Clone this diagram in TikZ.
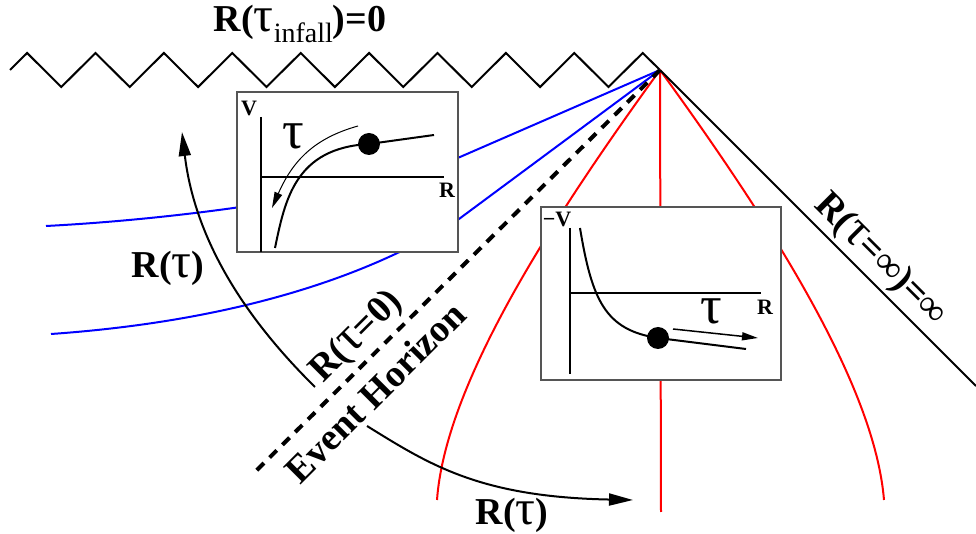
\documentclass[tikz,border=0pt]{standalone}
\usepackage{fontspec}
\setmainfont{Liberation Serif}
\usepackage{graphicx}
\usepackage{xcolor}
\definecolor{cBlue}{HTML}{0000FF}
\definecolor{cRed}{HTML}{FF0000}
\definecolor{cFrame}{HTML}{555555}
\usetikzlibrary{arrows.meta}
\newcommand{\tu}{\scalebox{1.3}{\normalfont τ}}
\tikzset{
  sing-line/.style={line width=1pt,line join=miter},
  blue-line/.style={line width=1pt,draw=cBlue},
  red-line/.style={line width=1pt,draw=cRed},
  null-line/.style={line width=1pt},
  horizon/.style={line width=2pt,dash pattern=on 5pt off 4pt},
  flow-arrow/.style={-{Triangle[length=12pt,width=6pt]},line width=1pt},
  inset-box/.style={draw=cFrame,line width=0.75pt,fill=white},
  inset-axis/.style={line width=0.75pt},
  inset-curve/.style={line width=1pt},
  inset-arrow/.style={-{Triangle[length=8pt,width=4pt]},line width=0.5pt},
  node-lbl/.style={font=\bfseries\fontsize{19}{22}\selectfont,inner sep=0pt},
  node-ax/.style={font=\bfseries\fontsize{11}{12}\selectfont,inner sep=0pt},
  node-tau/.style={font=\fontsize{27}{30}\selectfont,inner sep=0pt},
}

\begin{document}
\begin{tikzpicture}[x=0.5pt,y=-0.5pt]
  \useasboundingbox (0,0) rectangle (976,534);
  \coordinate (apex) at (660,70);
  % singularity
  \draw[sing-line] (10,70)
    \foreach \k in {0,...,8} {-- ({10+17.1*(1+4*\k)},53) -- ({10+17.1*(3+4*\k)},87)}
    -- ({10+17.1*37},53) -- (apex);
  % world lines
  \coordinate (b1) at (46,226);
  \coordinate (b2) at (51,334);
  \draw[blue-line] (b1) .. controls (200,218) and (380,190) .. (460,157) -- (apex);
  \draw[blue-line] (b2) .. controls (250,320) and (380,270) .. (459,219) -- (apex);
  \coordinate (r1) at (437,500);
  \coordinate (r2) at (661,512);
  \coordinate (r3) at (884,500);
  \draw[red-line] (apex) .. controls (540,235) and (445,390) .. (r1);
  \draw[red-line] (apex) -- (r2);
  \draw[red-line] (apex) .. controls (780,235) and (875,390) .. (r3);
  \coordinate (inf) at (976,386);
  \draw[null-line] (apex) -- (inf);
  \coordinate (hz) at (255,472);
  \draw[horizon] (apex) -- (hz);

  % inset: outside the horizon
  \draw[inset-box] (237,92) rectangle (458,252);
  \draw[inset-axis] (261,117) -- (261,252);
  \draw[inset-axis] (261,177) -- (444,177);
  \node[node-ax] (v-out) at (249,108) {V};
  \node[node-ax] (r-out) at (447,190) {R};
  \draw[inset-curve] (275,248) .. controls (285,200) and (295,148) .. (369,144) -- (434,135);
  \fill (369,144) circle (11);
  \draw[inset-arrow] (358,126) .. controls (315,138) and (293,160) .. (272,208);
  \node[node-tau] (tau-out) at (293,136) {τ};

  % inset: inside the horizon
  \draw[inset-box] (541,207) rectangle (781,380);
  \draw[inset-axis] (570,228) -- (570,374);
  \draw[inset-axis] (570,293) -- (761,293);
  \node[node-ax] (v-in) at (557,219) {−V};
  \node[node-ax] (r-in) at (765,307) {R};
  \draw[inset-curve] (580,228) .. controls (592,300) and (605,330) .. (658,338) -- (746,349);
  \fill (658,338) circle (11);
  \draw[-{Triangle[length=8pt,width=4pt]},line width=0.75pt] (673,329) -- (758,338);
  \node[node-tau] (tau-in) at (711,311) {τ};

  % flow of R
  \coordinate (up-s) at (315,387);
  \coordinate (up-e) at (182,132);
  \draw[flow-arrow] (up-s) .. controls (245,318) and (195,240) .. (up-e);
  \coordinate (dn-s) at (367,426);
  \coordinate (dn-e) at (633,500);
  \draw[flow-arrow] (dn-s) .. controls (430,465) and (480,497) .. (dn-e);

  % labels
  \node[node-lbl] (lbl-infall) at (300,24)
    {R(\tu\raisebox{-0.3em}{\normalfont\fontsize{14}{14}\selectfont infall})=0};
  \node[node-lbl] (lbl-left) at (168,268) {R(\tu)};
  \node[node-lbl] (lbl-bottom) at (512,515) {R(\tu)};
  \node[node-lbl,rotate=45] (lbl-zero) at (357,337) {R(\tu=0)};
  \node[node-lbl,rotate=45] (lbl-horizon) at (375,392) {Event Horizon};
  \node[node-lbl,rotate=-45] (lbl-inf) at (880,260) {R(\tu=∞)=∞};
\end{tikzpicture}
\end{document}
